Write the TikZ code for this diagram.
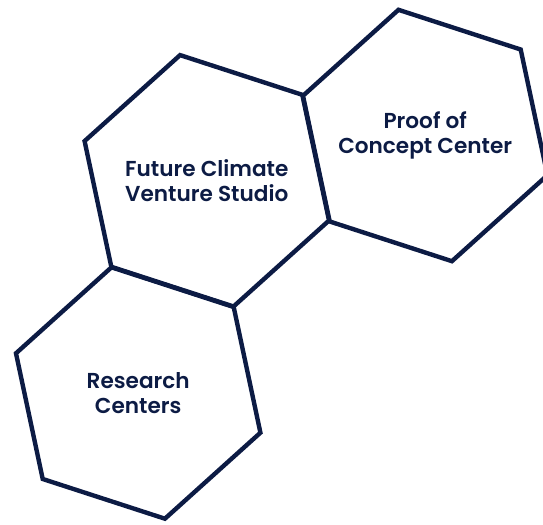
\documentclass[tikz,border=0pt]{standalone}
\usepackage{fontspec}
\setmainfont{Poppins}[BoldFont={Poppins SemiBold}]
\definecolor{navy}{HTML}{0C1B44}
\begin{document}
\begin{tikzpicture}[x=0.02cm, y=0.02cm,
    every node/.style={text=navy, align=center, inner sep=0pt,
                       font=\fontsize{12.3}{14.2}\selectfont\bfseries},
    hexline/.style={draw=navy, line width=2.5pt, line join=miter}]
  \useasboundingbox (0,0) rectangle (543,524);
  \clip (0,0) rectangle (543,524);
  \node (studio) at (206.8,343.2) {Future Climate\\Venture Studio};
  \node (proof) at (425.2,388.5) {Proof of\\Concept Center};
  \node (research) at (138.2,131) {Research\\Centers};
  \foreach \c in {studio,proof,research}
    \draw[hexline, shift={(\c.center)}] (42:128.5) -- (102:128.5) -- (162:128.5)
      -- (222:128.5) -- (282:128.5) -- (342:128.5) -- cycle;
\end{tikzpicture}
\end{document}
